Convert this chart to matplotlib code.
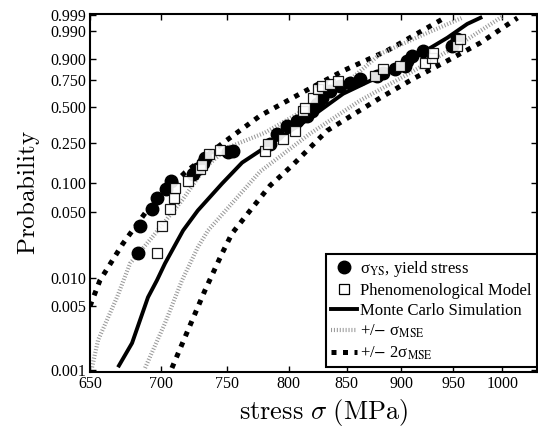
import numpy as np
import matplotlib
matplotlib.use("Agg")
import matplotlib.pyplot as plt
from matplotlib.ticker import FixedLocator, FixedFormatter, NullLocator
from matplotlib.lines import Line2D

plt.rcParams['font.family'] = ['Liberation Serif', 'DejaVu Serif']

# yield stress measurements (MPa, cumulative probability)
ys_stress = [683.5, 684.9, 693.5, 697.1, 703.7, 707.4, 723.9, 726.8, 731.4, 733.0,
             750.7, 754.8, 784.6, 790.4, 798.5, 807.1, 815.5, 819.7, 823.9, 828.4,
             835.3, 844.1, 853.0, 861.7, 877.7, 883.0, 894.2, 903.3, 905.1, 910.0,
             920.8, 949.3, 954.3]
ys_prob = [0.0182, 0.0360, 0.0545, 0.0710, 0.0880, 0.1062, 0.1251, 0.1403, 0.1610, 0.1802,
           0.206, 0.2106, 0.2453, 0.3027, 0.3560, 0.3922, 0.4310, 0.4717, 0.5319, 0.5852,
           0.6490, 0.6946, 0.7214, 0.7561, 0.7813, 0.8056, 0.8361, 0.8575, 0.8897, 0.9176,
           0.9408, 0.9592, 0.9778]

# phenomenological model
pm_stress = [697.1, 700.8, 706.7, 709.7, 710.4, 720.1, 729.3, 730.7, 736.0, 744.6,
             780.3, 782.9, 795.1, 805.4, 812.1, 813.9, 820.5, 824.7, 828.4, 835.3,
             842.5, 875.1, 883.0, 898.7, 922.5, 929.1, 930.0, 954.3, 957.3]
pm_prob = [0.0182, 0.0360, 0.0545, 0.0710, 0.0901, 0.1062, 0.1403, 0.1538, 0.1970, 0.2153,
           0.2106, 0.2453, 0.2727, 0.3216, 0.4717, 0.4971, 0.5852, 0.6674, 0.6946, 0.7124,
           0.7390, 0.7813, 0.8361, 0.8575, 0.8773, 0.9070, 0.9322, 0.9592, 0.9778]

# Monte Carlo simulation
mc_stress = [669.3, 679.2, 690.6, 697.1, 703.0, 716.4, 727.5, 746.2, 762.0, 780.3,
             812.1, 846.8, 886.5, 927.5, 944.2, 964.1, 979.3]
mc_prob = [0.00108, 0.00197, 0.00614, 0.00935, 0.0142, 0.0319, 0.0519, 0.0990, 0.161, 0.225,
           0.377, 0.622, 0.806, 0.952, 0.980, 0.996, 0.9986]

# +/- sigma bands
p1_stress = [651.4, 655.5, 668.6, 677.8, 693.5, 715.6, 733.0, 750.7, 780.3, 812.1,
             846.8, 880.4, 918.0, 959.1]
p1_prob = [0.00108, 0.00212, 0.00614, 0.0142, 0.0269, 0.0661, 0.1436, 0.225, 0.3085, 0.472,
           0.695, 0.9275, 0.9834, 0.9984]
m1_stress = [688.5, 703.0, 715.6, 727.5, 735.3, 776.4, 818.0, 861.7, 908.3, 957.3, 1000.9]
m1_prob = [0.00106, 0.00323, 0.00935, 0.0211, 0.0319, 0.131, 0.3027, 0.5587, 0.8056, 0.9654,
           0.9988]

# +/- 2 sigma bands
p2_stress = [650.0, 656.8, 672.8, 689.9, 717.8, 746.2, 776.4, 809.6, 846.8, 886.5, 939.3]
p2_prob = [0.00493, 0.00935, 0.0232, 0.0519, 0.128, 0.2453, 0.43, 0.622, 0.821, 0.941, 0.998]
m2_stress = [708.1, 720.1, 733.0, 746.2, 754.0, 768.4, 784.6, 802.8, 832.7, 880.4,
             911.1, 944.2, 977.3, 1016.1]
m2_prob = [0.00106, 0.00272, 0.0073, 0.0182, 0.0297, 0.0519, 0.0944, 0.1503, 0.3216, 0.585,
           0.756, 0.890, 0.9682, 0.99836]

x_ticks = [650, 700, 750, 800, 850, 900, 950, 1000]
y_ticks = [0.001, 0.005, 0.010, 0.050, 0.100, 0.250, 0.500, 0.750, 0.900, 0.990, 0.999]


# weibull probability axis
def wbl_fwd(p):
    p = np.clip(np.asarray(p, dtype=float), 1e-12, 1 - 1e-12)
    return np.log(-np.log(1 - p))


def wbl_inv(y):
    return 1 - np.exp(-np.exp(np.asarray(y, dtype=float)))


fig = plt.figure(figsize=(5.38, 4.28), dpi=100)
ax = fig.add_axes([90 / 538, 56 / 428, 447 / 538, 358 / 428])
ax.set_xscale('log')
ax.set_yscale('function', functions=(wbl_fwd, wbl_inv))

dots2 = (0, (1.0, 1.3))
dots1 = (0, (0.25, 0.45))
ax.plot(p2_stress, p2_prob, color='black', lw=3.6, linestyle=dots2)
ax.plot(m2_stress, m2_prob, color='black', lw=3.6, linestyle=dots2)
ax.plot(p1_stress, p1_prob, color='0.6', lw=3.0, linestyle=dots1)
ax.plot(m1_stress, m1_prob, color='0.6', lw=3.0, linestyle=dots1)
ax.plot(mc_stress, mc_prob, color='black', lw=2.8, solid_capstyle='butt')
ax.plot(ys_stress, ys_prob, 'o', color='black', ms=9, mec='black')
ax.plot(pm_stress, pm_prob, 's', mfc='white', mec='black', ms=7.5, mew=0.9, alpha=0.9)

ax.set_xlim(650, 1037)
ax.set_ylim(0.00096, 0.99915)

ax.xaxis.set_major_locator(FixedLocator(x_ticks))
ax.xaxis.set_major_formatter(FixedFormatter([str(t) for t in x_ticks]))
ax.xaxis.set_minor_locator(NullLocator())
ax.yaxis.set_major_locator(FixedLocator(y_ticks))
ax.yaxis.set_major_formatter(FixedFormatter(['%.3f' % t for t in y_ticks]))
ax.yaxis.set_minor_locator(NullLocator())
ax.tick_params(direction='in', top=True, right=True, length=4, width=1.0,
               labelsize=11.5, pad=3)
for s in ax.spines.values():
    s.set_linewidth(1.5)

ax.set_xlabel(r'$\mathrm{stress}\ \sigma\ \mathrm{(MPa)}$', fontsize=19,
              math_fontfamily='cm')
ax.xaxis.set_label_coords(0.523, -0.07)
ax.set_ylabel(r'$\mathrm{Probability}$', fontsize=18, math_fontfamily='cm', labelpad=6)

handles = [
    Line2D([], [], marker='o', color='black', ls='none', ms=9),
    Line2D([], [], marker='s', mfc='white', mec='black', ls='none', ms=7, mew=0.9),
    Line2D([], [], color='black', lw=2.8),
    Line2D([], [], color='0.6', lw=3.0, linestyle=dots1),
    Line2D([], [], color='black', lw=3.6, linestyle=dots2),
]
labels = [
    r'σ$_\mathrm{YS}$, yield stress',
    'Phenomenological Model',
    'Monte Carlo Simulation',
    r'+/$-$ σ$_\mathrm{MSE}$',
    r'+/$-$ 2σ$_\mathrm{MSE}$',
]
leg = ax.legend(handles, labels, loc='lower right', bbox_to_anchor=(1.0, 0.014),
                borderaxespad=0, frameon=True, fancybox=False, framealpha=1,
                edgecolor='black', handlelength=1.6, handletextpad=0.2,
                labelspacing=0.25, borderpad=0.3,
                prop={'size': 12, 'math_fontfamily': 'stix'})
leg.get_frame().set_linewidth(1.5)

fig.savefig('out.png', dpi=100)
